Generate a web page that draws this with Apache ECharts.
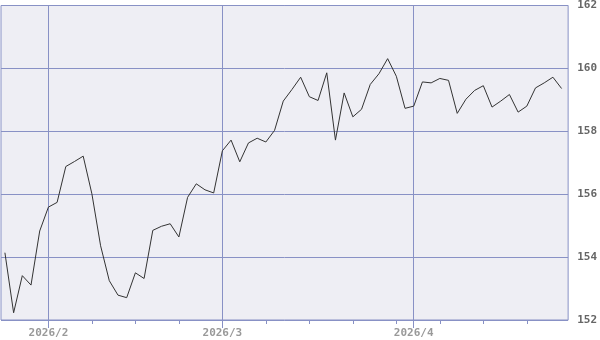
<!DOCTYPE html>
<html>
<head>
<meta charset="utf-8">
<script src="https://cdn.jsdelivr.net/npm/echarts@6/dist/echarts.min.js"></script>
<style>html,body{margin:0;padding:0;background:#fff}#c{width:600px;height:340px}</style>
</head>
<body>
<div id="c"></div>
<script>
var dates = [
 '2026/01/26','2026/01/27','2026/01/28','2026/01/29','2026/01/30',
 '2026/02/02','2026/02/03','2026/02/04','2026/02/05','2026/02/06',
 '2026/02/09','2026/02/10','2026/02/11','2026/02/12','2026/02/13',
 '2026/02/16','2026/02/17','2026/02/18','2026/02/19','2026/02/20',
 '2026/02/23','2026/02/24','2026/02/25','2026/02/26','2026/02/27',
 '2026/03/02','2026/03/03','2026/03/04','2026/03/05','2026/03/06',
 '2026/03/09','2026/03/10','2026/03/11','2026/03/12','2026/03/13',
 '2026/03/16','2026/03/17','2026/03/18','2026/03/19','2026/03/20',
 '2026/03/23','2026/03/24','2026/03/25','2026/03/26','2026/03/27',
 '2026/03/30','2026/03/31','2026/04/01','2026/04/02','2026/04/03',
 '2026/04/06','2026/04/07','2026/04/08','2026/04/09','2026/04/10',
 '2026/04/13','2026/04/14','2026/04/15','2026/04/16','2026/04/17',
 '2026/04/20','2026/04/21','2026/04/22','2026/04/23','2026/04/24'
];
var values = [
 154.14,152.23,153.41,153.11,154.83,
 155.59,155.74,156.88,157.04,157.21,
 156.01,154.36,153.25,152.79,152.71,
 153.50,153.32,154.85,154.98,155.06,
 154.64,155.90,156.33,156.14,156.04,
 157.38,157.72,157.03,157.63,157.78,
 157.66,158.03,158.96,159.33,159.72,
 159.10,158.98,159.86,157.72,159.22,
 158.46,158.70,159.49,159.83,160.31,
 159.75,158.73,158.80,159.57,159.54,
 159.68,159.62,158.57,159.02,159.30,
 159.45,158.77,158.96,159.17,158.61,
 158.80,159.38,159.54,159.72,159.36
];
var weekTickDates = ['2026/02/09','2026/02/16','2026/02/23','2026/03/09','2026/03/16','2026/03/23','2026/03/30','2026/04/06','2026/04/13','2026/04/20'];
var monthTickDates = ['2026/02/02','2026/03/02','2026/04/01'];
var monthLabels = ['2026/2','2026/3','2026/4'];
var yTicks = [152,154,156,158,160,162];

var weekIdx = weekTickDates.map(function(d){return dates.indexOf(d);});
var monthIdx = monthTickDates.map(function(d){return dates.indexOf(d);});
var seriesData = values.map(function(v,i){return [i,v];});
var lineCol = '#8891c5';

var chart = echarts.init(document.getElementById('c'), null, {renderer:'canvas'});
chart.setOption({
  animation:false,
  grid:{left:1,right:30,top:4,bottom:20,show:true,backgroundColor:'#eeeef4',borderColor:lineCol,borderWidth:1},
  xAxis:[{
    type:'value',min:-0.45,max:64.75,
    axisLine:{show:false},
    axisTick:{show:true,length:4,customValues:weekIdx,lineStyle:{color:lineCol}},
    axisLabel:{show:false},
    splitLine:{show:false}
  },{
    type:'value',min:-0.45,max:64.75,position:'bottom',
    axisLine:{show:false},
    axisTick:{show:true,length:8,customValues:monthIdx,lineStyle:{color:lineCol}},
    axisLabel:{show:true,customValues:monthIdx,margin:8,color:'#999',fontSize:11,fontWeight:'bold',fontFamily:'DejaVu Sans Mono',
      formatter:function(v){var k=monthIdx.indexOf(Math.round(v));return k>=0?monthLabels[k]:'';}},
    splitLine:{show:true,lineStyle:{color:lineCol,width:1}}
  }],
  yAxis:{
    type:'value',position:'right',min:152,max:162,interval:2,
    axisLine:{show:false},
    axisTick:{show:true,length:4,lineStyle:{color:lineCol}},
    axisLabel:{margin:9,color:'#666',fontSize:11,fontWeight:'bold',fontFamily:'DejaVu Sans Mono',
      formatter:function(v){return yTicks.indexOf(v)>=0?String(v):'';}},
    splitLine:{show:true,lineStyle:{color:lineCol,width:1}}
  },
  series:[{
    type:'line',xAxisIndex:0,data:seriesData,showSymbol:false,symbol:'none',
    lineStyle:{color:'#333',width:1},z:5
  }]
});
</script>
</body>
</html>
